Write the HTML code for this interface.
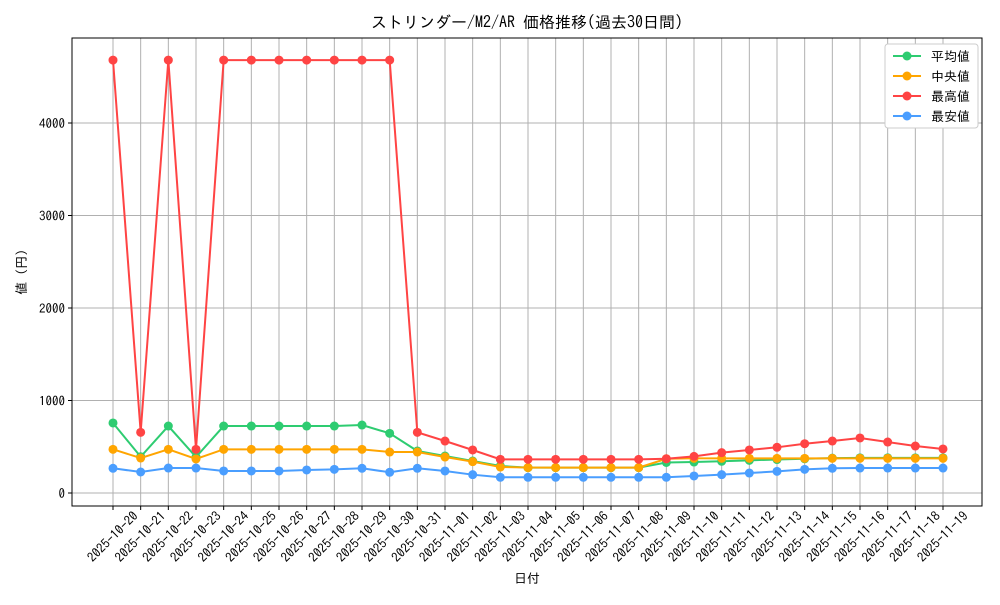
<!DOCTYPE html>
<html><head><meta charset="utf-8"><style>
body{margin:0;background:#fff}
svg{font-family:"IPAGothic","Noto Sans CJK JP",sans-serif}
</style></head><body>
<svg id="c" width="1000" height="600"></svg>
<script>
const dates=["2025-10-20","2025-10-21","2025-10-22","2025-10-23","2025-10-24","2025-10-25","2025-10-26","2025-10-27","2025-10-28","2025-10-29","2025-10-30","2025-10-31","2025-11-01","2025-11-02","2025-11-03","2025-11-04","2025-11-05","2025-11-06","2025-11-07","2025-11-08","2025-11-09","2025-11-10","2025-11-11","2025-11-12","2025-11-13","2025-11-14","2025-11-15","2025-11-16","2025-11-17","2025-11-18","2025-11-19"];
const avgVals=[757,392,724,389,724,724,724,724,724,735,645,454,400,346,292,274,274,274,274,274,330,335,343,353,362,370,377,380,380,380,380];
const medVals=[472,378,472,368,472,472,472,472,472,472,443,443,389,339,281,275,275,275,275,275,370,375,375,375,375,375,375,375,375,375,375];
const maxVals=[4680,656,4680,472,4680,4680,4680,4680,4680,4680,4680,656,562,465,364,364,364,364,364,364,370,396,436,465,494,533,562,595,551,508,476];
const minVals=[267,227,270,270,238,238,238,249,256,267,224,267,238,198,170,170,170,170,170,170,170,184,198,216,234,256,267,270,270,270,270];
const yTicks=[0,1000,2000,3000,4000];
const series=[["平均値",avgVals,"#2ecc71","avg"],["中央値",medVals,"#ffa500","median"],["最高値",maxVals,"#ff4444","max"],["最安値",minVals,"#4a9eff","min"]];
const L=72,R=982,T=38,B=506;
const x=i=>113+i*(943-113)/(dates.length-1);
const y=v=>493-v*0.0925;
const svg=document.getElementById('c');
const NS="http://www.w3.org/2000/svg";
function mk(t,a,txt){const e=document.createElementNS(NS,t);for(const k in a)e.setAttribute(k,a[k]);if(txt!==undefined)e.textContent=txt;svg.appendChild(e);return e;}
dates.forEach((d,i)=>{const g=mk('line',{x1:x(i),x2:x(i),y1:T,y2:B,stroke:'#b0b0b0','stroke-width':1});

});
yTicks.forEach(v=>{const g=mk('line',{x1:L,x2:R,y1:y(v),y2:y(v),stroke:'#b0b0b0','stroke-width':1});

});
series.forEach(s=>{
 const p=mk('polyline',{points:s[1].map((v,i)=>x(i)+','+y(v)).join(' '),fill:'none',stroke:s[2],'stroke-width':2});
 
 
 s[1].forEach((v,i)=>{const c=mk('circle',{cx:x(i),cy:y(v),r:4.5,fill:s[2]});
 
 });
});
const f=mk('rect',{x:L,y:T,width:R-L,height:B-T,fill:'none',stroke:'#000','stroke-width':1});


yTicks.forEach(v=>{mk('line',{x1:L-4,x2:L,y1:y(v),y2:y(v),stroke:'#000'});
const t=mk('text',{x:L-7,y:y(v)+5,'text-anchor':'end','font-size':13},v);

});
dates.forEach((d,i)=>{mk('line',{x1:x(i),x2:x(i),y1:B,y2:B+4,stroke:'#000'});
const cx=x(i),cy=537;
const t=mk('text',{x:cx,y:cy+4,'text-anchor':'middle','font-size':13,transform:`rotate(-45 ${cx} ${cy})`},d);

});
const ti=mk('text',{x:527,y:28,'text-anchor':'middle','font-size':16},'ストリンダー/M2/AR 価格推移(過去30日間)');


const xl=mk('text',{x:527,y:583,'text-anchor':'middle','font-size':13},'日付');


const yl=mk('text',{x:26,y:272,'text-anchor':'middle','font-size':13,transform:'rotate(-90 26 272)'},'値 (円)');


const lb=mk('rect',{x:885,y:44,width:93,height:84,rx:3,fill:'#fff',stroke:'#ccc'});


series.forEach((s,k)=>{const yy=56+k*20;
mk('line',{x1:893,x2:921,y1:yy,y2:yy,stroke:s[2],'stroke-width':2});
mk('circle',{cx:907,cy:yy,r:4.5,fill:s[2]});
const t=mk('text',{x:931,y:yy+5,'font-size':13},s[0]);

});
</script>
</body></html>
